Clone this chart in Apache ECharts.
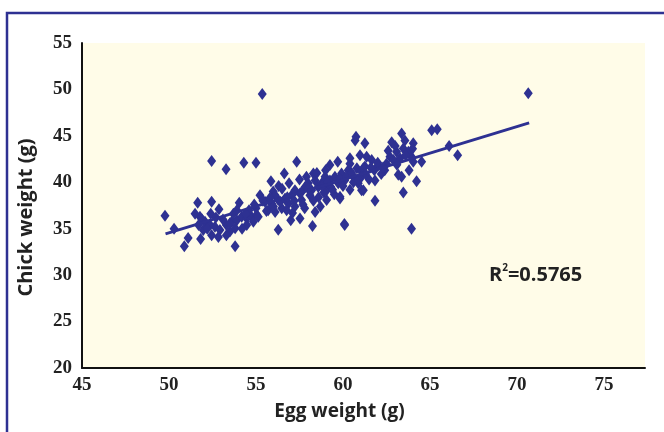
<!DOCTYPE html>
<html>
<head>
    <meta charset="UTF-8">
    <title>index.html</title>
    <script src="https://cdn.jsdelivr.net/npm/echarts@6/dist/echarts.min.js"></script>
    <style>
        html, body { margin: 0; padding: 0; background: #fff; }
        #chart { width: 664px; height: 432px; }
    </style>
</head>
<body>
<div id="chart"></div>
<script>
    // egg weight (g) / chick weight (g)
    var eggWeight = [
        52.45, 53.28, 54.3, 55.0, 51.65, 52.45, 52.87, 54.04, 49.77, 50.29,
        51.1, 50.88, 51.82, 53.8, 51.78, 52.07, 52.36, 52.64, 52.93, 53.3,
        53.6, 53.9, 54.18, 54.47, 54.75, 55.04, 51.97, 52.45, 52.84, 53.5,
        53.8, 54.47, 54.85, 57.34, 55.86, 56.63, 58.3, 59.25, 59.7, 60.4,
        60.98, 60.7, 55.23, 55.99, 59.06, 59.83, 61.07, 57.0, 56.28, 58.25,
        60.08, 58.4, 57.8, 57.53, 55.13, 55.52, 55.9, 56.28, 56.67, 56.86,
        57.05, 57.24, 57.53, 57.62, 57.82, 58.0, 58.2, 58.4, 58.58, 58.78,
        58.97, 59.06, 59.25, 59.54, 59.73, 59.92, 60.1, 60.3, 60.4, 60.6,
        60.8, 60.88, 61.07, 61.26, 56.1, 56.48, 56.76, 57.24, 55.7, 61.26,
        62.8, 63.37, 63.56, 64.04, 65.1, 65.42, 66.1, 66.59, 61.36, 61.65,
        62.03, 62.4, 62.7, 63.08, 63.28, 63.47, 63.76, 63.94, 64.04, 64.52,
        61.17, 61.07, 63.18, 63.37, 63.8, 64.23, 63.47, 61.84, 61.17, 63.94,
        70.65, 55.36, 60.1, 60.75, 59.83, 61.84,
        56.3, 56.9, 57.5, 57.7, 58.1, 58.6, 58.9, 59.3, 59.5, 60.0,
        60.4, 60.6, 61.5, 61.8, 62.2, 62.5, 55.4, 55.0, 54.6, 53.7,
        53.1, 52.4, 51.9, 56.1, 57.1, 58.7, 54.2, 53.3,
        55.6, 56.0, 56.4, 56.8, 57.2, 57.6, 58.0, 58.3, 58.8, 59.1,
        59.4, 59.8, 60.2, 60.5, 60.9, 61.3, 61.6, 62.0, 62.3, 62.9,
        63.1, 63.6, 64.0, 63.0, 62.6, 57.9, 58.5, 59.0, 56.5, 55.8,
        54.9, 54.4, 53.9, 53.5, 52.7, 52.2, 51.7, 51.5
    ];
    var chickWeight = [
        42.3, 41.4, 42.1, 42.1, 37.8, 37.9, 37.1, 37.8, 36.4, 35.0,
        34.0, 33.1, 33.9, 33.1, 36.3, 35.75, 35.4, 35.2, 34.85, 35.4,
        35.75, 35.9, 36.3, 36.1, 36.3, 36.5, 34.85, 34.3, 34.1, 34.7,
        35.05, 35.4, 35.75, 42.2, 40.1, 40.95, 40.95, 41.85, 42.2, 42.6,
        42.9, 44.5, 38.6, 39.0, 38.1, 38.25, 39.15, 35.9, 34.9, 35.3,
        35.5, 36.8, 37.2, 36.1, 36.3, 37.9, 37.7, 38.1, 38.25, 37.7,
        38.6, 39.15, 38.8, 38.1, 39.5, 39.9, 39.15, 40.2, 39.5, 39.9,
        40.6, 39.15, 40.2, 40.6, 39.9, 40.95, 40.2, 41.3, 42.0, 40.6,
        41.5, 39.9, 41.15, 41.7, 36.8, 37.2, 37.0, 37.4, 37.0, 44.2,
        44.3, 45.25, 44.5, 44.2, 45.6, 45.7, 43.9, 42.9, 42.75, 42.4,
        41.85, 41.3, 42.75, 43.3, 42.6, 43.65, 43.3, 42.75, 42.2, 42.2,
        41.5, 40.6, 40.8, 40.6, 41.3, 40.1, 38.9, 38.0, 39.15, 35.0,
        49.6, 49.5, 35.4, 44.9, 38.45, 40.2,
        39.6, 39.9, 40.3, 37.6, 38.6, 38.4, 38.9, 39.5, 38.7, 39.6,
        39.2, 40.0, 40.3, 41.3, 40.9, 42.0, 38.0, 37.2, 37.0, 36.6,
        36.0, 36.6, 36.0, 38.6, 36.7, 37.4, 35.0, 34.3,
        36.9, 37.4, 37.9, 38.4, 38.0, 38.9, 39.3, 38.0, 39.6, 40.0,
        39.2, 40.4, 40.6, 41.0, 40.3, 40.9, 41.6, 42.1, 41.6, 42.4,
        41.9, 42.9, 43.6, 43.9, 43.4, 40.6, 41.0, 41.3, 39.3, 38.3,
        37.6, 36.6, 37.0, 35.6, 36.2, 35.0, 35.4, 36.6
    ];
    // linear trend line ends, as drawn
    var trendX = [49.8, 70.7];
    var trendY = [34.45, 46.4];
    var xTicks = [45, 50, 55, 60, 65, 70, 75];
    var yTicks = [20, 25, 30, 35, 40, 45, 50, 55];
    var r2Text = '0.5765';

    var points = [];
    for (var i = 0; i < eggWeight.length; i++) {
        points.push([eggWeight[i], chickWeight[i]]);
    }
    var trend = [];
    for (var j = 0; j < trendX.length; j++) {
        trend.push([trendX[j], trendY[j]]);
    }

    var navy = '#2e3192';
    var chart = echarts.init(document.getElementById('chart'));
    chart.setOption({
        backgroundColor: '#ffffff',
        animation: false,
        grid: {
            left: 82, right: 19, top: 43, bottom: 64,
            show: true, backgroundColor: '#fffce8', borderWidth: 0
        },
        xAxis: {
            type: 'value',
            min: xTicks[0],
            max: 77.36,
            interval: 5,
            name: 'Egg weight (g)',
            nameLocation: 'middle',
            nameGap: 34,
            nameTextStyle: {
                fontFamily: 'Open Sans', fontWeight: 'bold', fontSize: 19, color: '#222',
                padding: [0, 48, 0, 0]
            },
            axisLine: { lineStyle: { color: '#111', width: 2 } },
            axisTick: { show: false },
            splitLine: { show: false },
            axisLabel: {
                showMaxLabel: false,
                margin: 8,
                fontFamily: 'Liberation Serif', fontWeight: 'bold', fontSize: 19, color: '#222'
            }
        },
        yAxis: {
            type: 'value',
            min: yTicks[0],
            max: yTicks[yTicks.length - 1],
            interval: 5,
            name: 'Chick weight (g)',
            nameLocation: 'middle',
            nameGap: 46,
            nameTextStyle: {
                fontFamily: 'Open Sans', fontWeight: 'bold', fontSize: 20, color: '#222',
                padding: [0, 24, 0, 0]
            },
            axisLine: { show: true, lineStyle: { color: '#111', width: 2 } },
            axisTick: { show: false },
            splitLine: { show: false },
            axisLabel: {
                margin: 10,
                fontFamily: 'Liberation Serif', fontWeight: 'bold', fontSize: 19, color: '#222'
            }
        },
        graphic: [
            {
                type: 'rect',
                shape: { x: 7, y: 13, width: 720, height: 500 },
                style: { fill: null, stroke: navy, lineWidth: 2.5 },
                silent: true
            },
            {
                type: 'text',
                left: 489, top: 263,
                style: {
                    text: '{r|R}{s|2}{r|=' + r2Text + '}',
                    rich: {
                        r: { fontFamily: 'Open Sans', fontWeight: 'bold', fontSize: 20, fill: '#222', verticalAlign: 'bottom' },
                        s: { fontFamily: 'Open Sans', fontWeight: 'bold', fontSize: 10, fill: '#222', verticalAlign: 'top', padding: [0, 0, 12, 0] }
                    }
                }
            }
        ],
        series: [
            {
                type: 'scatter',
                data: points,
                symbol: 'diamond',
                symbolSize: [9, 12],
                itemStyle: { color: navy, opacity: 1 },
                z: 3
            },
            {
                type: 'line',
                data: trend,
                symbol: 'none',
                lineStyle: { color: navy, width: 3 },
                z: 4
            }
        ]
    });
</script>
</body>
</html>
